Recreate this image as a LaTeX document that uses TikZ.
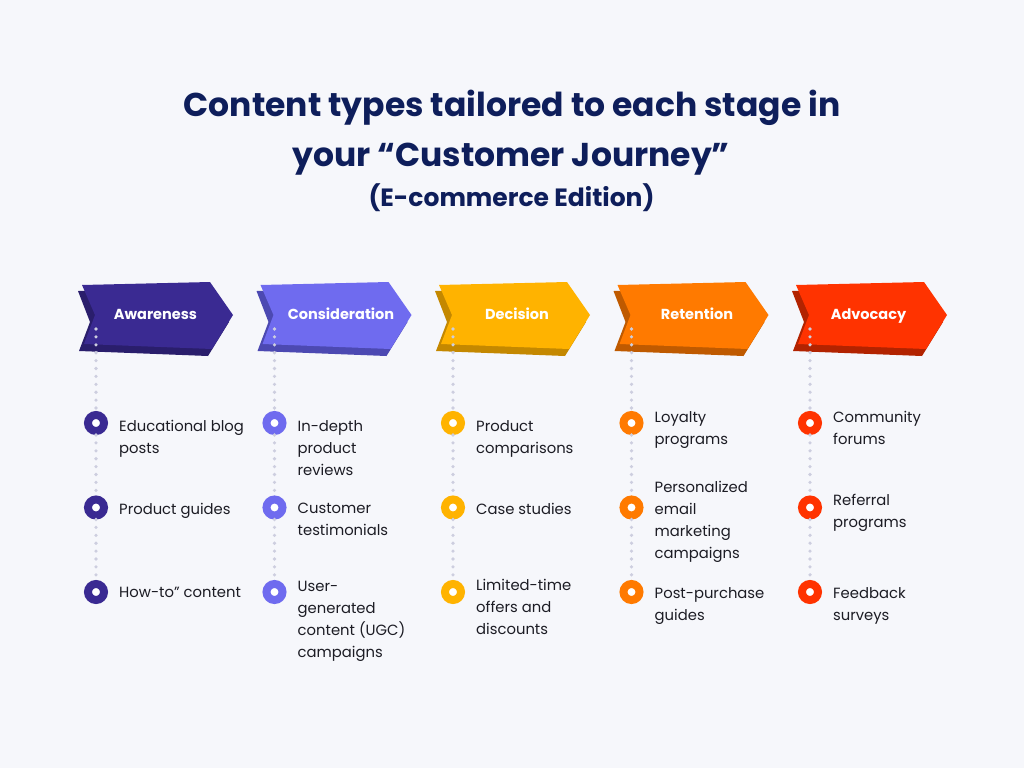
\documentclass[tikz,border=0pt]{standalone}
\usepackage{fontspec}
\setmainfont{Poppins}[Ligatures=ResetAll]
\definecolor{bg}{HTML}{F6F7FB}
\definecolor{navy}{HTML}{0E1E5B}
\definecolor{ink}{HTML}{1C1C24}
\definecolor{dotc}{HTML}{CDCEDF}
\definecolor{cA}{HTML}{3A2A92}\definecolor{sA}{HTML}{2A1E6C}
\definecolor{cB}{HTML}{6F6BEF}\definecolor{sB}{HTML}{4C49B2}
\definecolor{cC}{HTML}{FFB300}\definecolor{sC}{HTML}{C48800}
\definecolor{cD}{HTML}{FF7A00}\definecolor{sD}{HTML}{BF5A00}
\definecolor{cE}{HTML}{FF3300}\definecolor{sE}{HTML}{B22300}
\newcommand\stagechev[3]{%
  \begin{scope}[shift={(#1,0)}]
    \fill[#3] (0,291) -- (128,289) -- (151,322) -- (130,356) -- (1,351) -- (12,322) -- cycle;
    \fill[#2] (4,285) -- (132,282) -- (155,315) -- (134,349) -- (6,344) -- (17,315) -- cycle;
  \end{scope}}
\newcommand\itemlines[1]{\begin{tabular}[t]{@{}l@{}}#1\end{tabular}}
\begin{document}
\begin{tikzpicture}[x=1pt,y=-1pt,
  title/.style={font=\bfseries\fontsize{33}{38}\selectfont, text=navy, anchor=base},
  sublabel/.style={font=\bfseries\fontsize{14.5}{17}\selectfont, text=white, anchor=base},
  item/.style={font=\fontsize{14.8}{22}\selectfont, text=ink, anchor=base west, inner sep=0pt},
  bul/.style={circle, draw=#1, fill=white, line width=8pt, minimum size=16pt, inner sep=0pt},
  dotline/.style={draw=dotc, line width=3.6pt, line cap=round, dash pattern=on 0pt off 7.9pt}]
\useasboundingbox[fill=bg] (0,0) rectangle (1024,768);

\node[title] (t1) at (512,116) {Content types tailored to each stage in};
\node[title] (t2) at (511,166) {your “Customer Journey”};
\node[title, font=\bfseries\fontsize{25}{29}\selectfont] (t3) at (511.5,206.5) {(E-commerce Edition)};

\stagechev{78}{cA}{sA}
\stagechev{256.5}{cB}{sB}
\stagechev{435}{cC}{sC}
\stagechev{613.5}{cD}{sD}
\stagechev{792}{cE}{sE}

\node[sublabel] (s1) at (155.5,319.5) {Awareness};
\node[sublabel] (s2) at (341,319.5) {Consideration};
\node[sublabel] (s3) at (517,319.5) {Decision};
\node[sublabel] (s4) at (697,319.5) {Retention};
\node[sublabel] (s5) at (868.5,319.5) {Advocacy};

\coordinate (d1) at (96,329);
\coordinate (d2) at (274.5,329);
\coordinate (d3) at (453,329);
\coordinate (d4) at (631.5,329);
\coordinate (d5) at (810,329);

% bullets
\node[bul=cA] (a1) at (96,423) {};
\node[bul=cA] (a2) at (96,507.5) {};
\node[bul=cA] (a3) at (96,592) {};
\node[bul=cB] (b1) at (274.5,423) {};
\node[bul=cB] (b2) at (274.5,507.5) {};
\node[bul=cB] (b3) at (274.5,592) {};
\node[bul=cC] (c1) at (453,423) {};
\node[bul=cC] (c2) at (453,507.5) {};
\node[bul=cC] (c3) at (453,592) {};
\node[bul=cD] (e1) at (631.5,423) {};
\node[bul=cD] (e2) at (631.5,507.5) {};
\node[bul=cD] (e3) at (631.5,592) {};
\node[bul=cE] (f1) at (810,423) {};
\node[bul=cE] (f2) at (810,507.5) {};
\node[bul=cE] (f3) at (810,592) {};

\draw[dotline] (d1) -- (a1) (a1) -- (a2) (a2) -- (a3);
\draw[dotline] (d2) -- (b1) (b1) -- (b2) (b2) -- (b3);
\draw[dotline] (d3) -- (c1) (c1) -- (c2) (c2) -- (c3);
\draw[dotline] (d4) -- (e1) (e1) -- (e2) (e2) -- (e3);
\draw[dotline] (d5) -- (f1) (f1) -- (f2) (f2) -- (f3);

% texts
\node[item] (ta1) at (119,431) {\itemlines{Educational blog\\posts}};
\node[item] (ta2) at (119,514) {Product guides};
\node[item] (ta3) at (119,597) {How-to" content};
\node[item] (tb1) at (297.5,431) {\itemlines{In-depth\\product\\reviews}};
\node[item] (tb2) at (297.5,513.5) {\itemlines{Customer\\testimonials}};
\node[item] (tb3) at (297.5,591) {\itemlines{User-\\generated\\content (UGC)\\campaigns}};
\node[item] (tc1) at (476,431) {\itemlines{Product\\comparisons}};
\node[item] (tc2) at (476,514) {Case studies};
\node[item] (tc3) at (476,590) {\itemlines{Limited-time\\offers and\\discounts}};
\node[item] (te1) at (654.5,422) {\itemlines{Loyalty\\programs}};
\node[item] (te2) at (654.5,492) {\itemlines{Personalized\\email\\marketing\\campaigns}};
\node[item] (te3) at (654.5,598) {\itemlines{Post-purchase\\guides}};
\node[item] (tf1) at (833,422) {\itemlines{Community\\forums}};
\node[item] (tf2) at (833,505) {\itemlines{Referral\\programs}};
\node[item] (tf3) at (833,598) {\itemlines{Feedback\\surveys}};
\end{tikzpicture}
\end{document}
